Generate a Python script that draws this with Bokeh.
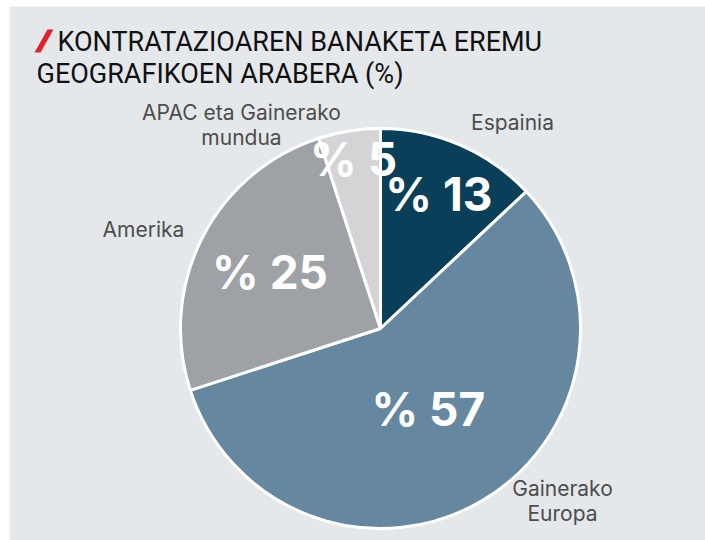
import math
from bokeh.plotting import figure
from bokeh.models import ColumnDataSource, Range1d
from bokeh.core.properties import value
from bokeh.embed import file_html
from bokeh.resources import INLINE

# ---- data ----
categories = ["Espainia", "Gainerako Europa", "Amerika", "APAC eta Gainerako mundua"]
shares = [13, 57, 25, 5]
label_lines = [["Espainia"], ["Gainerako", "Europa"], ["Amerika"], ["APAC eta Gainerako", "mundua"]]
colors = ["#0a3f5a", "#6587a0", "#9ea1a6", "#d4d4d6"]
title_lines = ["KONTRATAZIOAREN BANAKETA EREMU", "GEOGRAFIKOEN ARABERA (%)"]

# ---- layout (page pixel coords; y measured downwards) ----
W, H = 705, 540
LEFT, TOP = 9, 6
CX, CY, R = 380, 328, 200
pct_radius = [147, 94, 124, 172]
cat_label_pos = [(512, 122), (562, 488), (143, 229), (241, 112)]
LINE_H = 25


def Y(page_y):
    return H - page_y


p = figure(width=W, height=H, output_backend="svg", toolbar_location=None,
           x_range=Range1d(LEFT, W), y_range=Range1d(0, H - TOP),
           min_border=0, min_border_left=LEFT, min_border_top=TOP)
p.background_fill_color = "#e4e8eb"
p.border_fill_color = "white"
p.outline_line_color = None
p.axis.visible = False
p.grid.visible = False

total = sum(shares)
starts, ends, mids = [], [], []
a = 90.0
for s in shares:
    sweep = 360.0 * s / total
    starts.append(math.radians(a))
    ends.append(math.radians(a - sweep))
    mids.append(math.radians(a - sweep / 2))
    a -= sweep

src = ColumnDataSource(dict(cat=categories, share=shares, start=starts, end=ends, color=colors))
p.wedge(x=CX, y=Y(CY), radius=R, start_angle="start", end_angle="end", direction="clock",
        fill_color="color", line_color="white", line_width=3, source=src)

# percentage labels
px = [CX + r * math.cos(m) for r, m in zip(pct_radius, mids)]
py = [Y(CY) + r * math.sin(m) for r, m in zip(pct_radius, mids)]
ptxt = ["% " + str(s) for s in shares]
p.text(x=px, y=py, text=ptxt, text_color="white", text_font=value("Inter"),
       text_font_style="bold", text_font_size="46px", text_align="center",
       text_baseline="middle")

# category labels
lx, ly, lt = [], [], []
for lines, (x0, y0) in zip(label_lines, cat_label_pos):
    for i, t in enumerate(lines):
        lx.append(x0)
        ly.append(Y(y0 + i * LINE_H))
        lt.append(t)
p.text(x=lx, y=ly, text=lt, text_color="#4d4d4d", text_font=value("Inter"),
       text_font_size="21px", text_align="center", text_baseline="middle")

# title
p.patch(x=[34, 40, 53, 47], y=[Y(52), Y(52), Y(29), Y(29)], fill_color="#e0202a", line_color=None)
p.text(x=[57, 36], y=[Y(41), Y(73)], text=title_lines, text_color="#111111",
       text_font=value("Roboto"), text_font_size="27px", text_align="left",
       text_baseline="middle")

open("out.html", "w").write(file_html(p, INLINE))
